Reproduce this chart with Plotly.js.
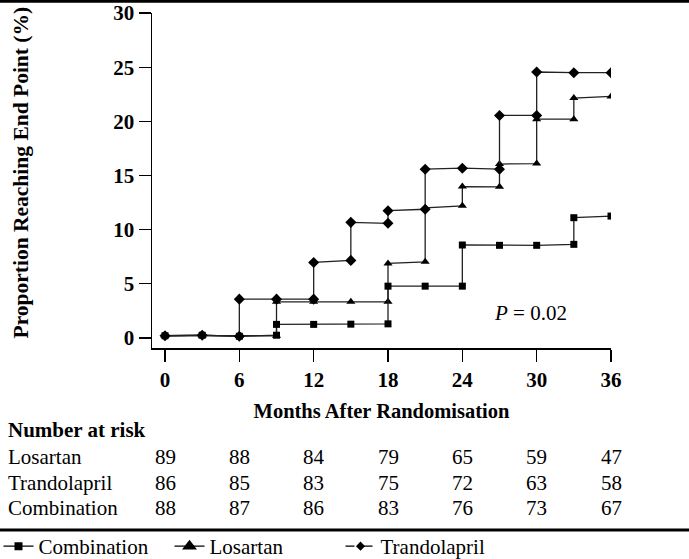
<!DOCTYPE html>
<html>
<head>
<meta charset="utf-8">
<script src="https://cdn.plot.ly/plotly-3.0.1.min.js"></script>
<style>html,body{margin:0;padding:0;background:#fff;}#chart{width:689px;height:559px;}</style>
</head>
<body>
<div id="chart"></div>
<script>
// ---- Data ----
const combinationMonths = [0, 3, 6, 9, 9, 12, 15, 18, 18, 21, 24, 24, 27, 30, 33, 33, 36];
const combinationPct    = [0.2, 0.25, 0.15, 0.25, 1.25, 1.25, 1.27, 1.3, 4.78, 4.78, 4.78, 8.58, 8.55, 8.55, 8.64, 11.1, 11.25];

const losartanMonths = [0, 3, 6, 9, 9, 12, 15, 18, 18, 21, 21, 24, 24, 27, 27, 30, 30, 33, 33, 36];
const losartanPct    = [0.2, 0.2, 0.2, 0.2, 3.33, 3.33, 3.35, 3.33, 6.88, 7.03, 12.0, 12.2, 13.97, 13.95, 16.05, 16.1, 20.2, 20.2, 22.15, 22.3];

const trandolaprilMonths = [0, 3, 6, 6, 9, 12, 12, 15, 15, 18, 18, 21, 21, 24, 27, 27, 30, 30, 33, 36];
const trandolaprilPct    = [0.2, 0.25, 0.15, 3.58, 3.58, 3.58, 6.97, 7.16, 10.67, 10.58, 11.75, 11.88, 15.58, 15.67, 15.58, 20.54, 20.54, 24.55, 24.49, 24.49];

const xTicks = [0, 6, 12, 18, 24, 30, 36];
const yTicks = [0, 5, 10, 15, 20, 25, 30];

const riskRows = ['Losartan', 'Trandolapril', 'Combination'];
const riskLosartan     = [89, 88, 84, 79, 65, 59, 47];
const riskTrandolapril = [86, 85, 83, 75, 72, 63, 58];
const riskCombination  = [88, 87, 86, 83, 76, 73, 67];

const yTitle = 'Proportion Reaching End Point (%)';
const xTitle = 'Months After Randomisation';
const pText = '<i>P</i> = 0.02';
const pMonth = 29.5, pValue = 2.3;

// ---- Layout geometry ----
const W = 689, H = 559;
const M = {l: 152, r: 78, t: 13, b: 211, autoexpand: false};
const plotW = W - M.l - M.r, plotH = H - M.t - M.b;
const px2paperX = x => (x - M.l) / plotW;
const px2paperY = y => (H - M.b - y) / plotH;

const SERIF = '"Liberation Serif", "DejaVu Serif", serif';
const lineColor = '#222';

function series(x, y, symbol, size) {
  return {
    x: x, y: y, type: 'scatter', mode: 'lines+markers', showlegend: false,
    line: {color: lineColor, width: 1.3},
    marker: {symbol: symbol, size: size, color: '#000'},
    hoverinfo: 'skip'
  };
}
function legendItem(name, symbol, size, dash) {
  return {
    x: [null], y: [null], type: 'scatter', mode: 'lines+markers', name: name,
    line: {color: '#000', width: 1.3, dash: dash},
    marker: {symbol: symbol, size: size, color: '#000'}
  };
}

const traces = [
  series(losartanMonths, losartanPct, 'triangle-up', 8),
  series(combinationMonths, combinationPct, 'square', 7),
  series(trandolaprilMonths, trandolaprilPct, 'diamond', 8.5),
  legendItem('Combination', 'square', 8, 'solid'),
  legendItem('Losartan', 'triangle-up', 13, 'solid'),
  legendItem('Trandolapril', 'diamond', 7, 'dash')
];

const annotations = [];
const rowY = [457, 482.5, 508];
const riskData = [riskLosartan, riskTrandolapril, riskCombination];
riskRows.forEach((name, r) => {
  annotations.push({
    xref: 'paper', yref: 'paper', x: px2paperX(6), y: px2paperY(rowY[r]),
    xanchor: 'left', yanchor: 'middle', showarrow: false, text: name,
    font: {family: SERIF, size: 21, color: '#000'}
  });
  riskData[r].forEach((v, i) => {
    annotations.push({
      xref: 'x', yref: 'paper', x: xTicks[i], y: px2paperY(rowY[r]),
      xanchor: 'center', yanchor: 'middle', showarrow: false, text: String(v),
      font: {family: SERIF, size: 21, color: '#000'}
    });
  });
});
annotations.push({
  xref: 'paper', yref: 'paper', x: px2paperX(6), y: px2paperY(430),
  xanchor: 'left', yanchor: 'middle', showarrow: false, text: 'Number at risk',
  font: {family: SERIF, size: 21, color: '#000', weight: 'bold'}
});
annotations.push({
  xref: 'x', yref: 'y', x: pMonth, y: pValue, xanchor: 'center', yanchor: 'middle',
  showarrow: false, text: pText, font: {family: SERIF, size: 21, color: '#000'}
});
// y-axis title (placed as rotated annotation to match the reference position)
annotations.push({
  xref: 'paper', yref: 'paper', x: px2paperX(20), y: px2paperY(172.5),
  xanchor: 'center', yanchor: 'middle', textangle: -90, showarrow: false, text: yTitle,
  font: {family: SERIF, size: 21.5, color: '#000', weight: 'bold'}
});

const layout = {
  width: W, height: H,
  margin: M,
  paper_bgcolor: '#fff', plot_bgcolor: '#fff',
  showlegend: true,
  legend: {
    orientation: 'h', x: px2paperX(-1.5), y: px2paperY(546.5), xanchor: 'left', yanchor: 'middle',
    font: {family: SERIF, size: 21, color: '#000'}, bgcolor: 'rgba(0,0,0,0)',
    itemwidth: 30, entrywidth: 126, entrywidthmode: 'pixels', tracegroupgap: 0
  },
  xaxis: {
    range: [-1.05, 36], tickvals: xTicks, ticktext: xTicks.map(String),
    ticks: 'outside', ticklen: 12, tickwidth: 1.3, tickcolor: '#000',
    showline: true, linewidth: 1.5, linecolor: '#000',
    showgrid: false, zeroline: false, fixedrange: true,
    tickfont: {family: SERIF, size: 21, color: '#000', weight: 'bold'},
    title: {text: xTitle, standoff: 13,
            font: {family: SERIF, size: 20.5, color: '#000', weight: 'bold'}}
  },
  yaxis: {
    range: [-0.93, 30], tickvals: yTicks, ticktext: yTicks.map(String),
    ticks: 'outside', ticklen: 12, tickwidth: 1.3, tickcolor: '#000',
    showline: true, linewidth: 1.5, linecolor: '#000',
    showgrid: false, zeroline: false, fixedrange: true,
    tickfont: {family: SERIF, size: 21, color: '#000', weight: 'bold'}
  },
  shapes: [
    {type: 'line', xref: 'paper', yref: 'paper', x0: px2paperX(0), x1: px2paperX(W), y0: px2paperY(1.3), y1: px2paperY(1.3), line: {color: '#000', width: 3}},
    {type: 'line', xref: 'paper', yref: 'paper', x0: px2paperX(0), x1: px2paperX(W), y0: px2paperY(530), y1: px2paperY(530), line: {color: '#000', width: 3}}
  ],
  annotations: annotations
};

Plotly.newPlot('chart', traces, layout, {displayModeBar: false, staticPlot: true});
</script>
</body>
</html>
